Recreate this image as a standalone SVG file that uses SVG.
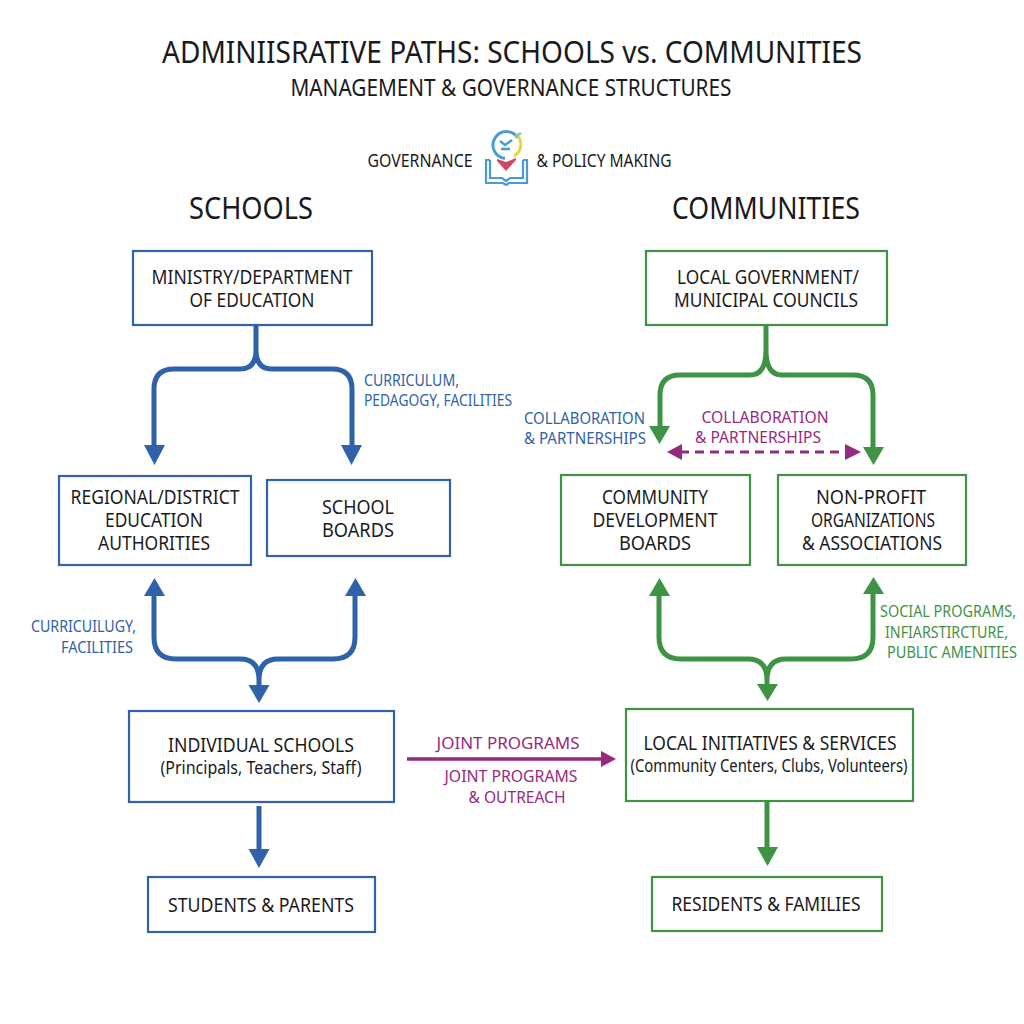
<svg xmlns="http://www.w3.org/2000/svg" width="1024" height="1024" viewBox="0 0 1024 1024">
<style>
text{font-family:"Noto Sans","Open Sans","Liberation Sans",sans-serif;text-anchor:middle;fill:#1a1a1c;font-size:20px}
.b{fill:#2f62a8;font-size:17px}
.g{fill:#3f9345;font-size:17px}
.p{fill:#962a80;font-size:17px}
.s{text-anchor:start}
.e{text-anchor:end}
.h{font-size:30px}
.bn{fill:#fff;stroke:#2f62a8;stroke-width:2.2}
.gn{fill:#fff;stroke:#3f9345;stroke-width:2.2}
.lb{fill:none;stroke:#2f62a8;stroke-width:5}
.lg{fill:none;stroke:#3f9345;stroke-width:5}
.ab{fill:#2f62a8}.ag{fill:#3f9345}.ap{fill:#962a80}
</style>
<rect width="1024" height="1024" fill="#fff"/>
<g id="titles">
<text x="512" y="63" textLength="700" lengthAdjust="spacingAndGlyphs" style="font-size:30px">ADMINIISRATIVE PATHS: SCHOOLS vs. COMMUNITIES</text>
<text x="511" y="96" textLength="441" lengthAdjust="spacingAndGlyphs" style="font-size:23px">MANAGEMENT &amp; GOVERNANCE STRUCTURES</text>
<text x="420" y="167" textLength="105" lengthAdjust="spacingAndGlyphs" style="font-size:18px">GOVERNANCE</text>
<text x="604" y="167" textLength="135" lengthAdjust="spacingAndGlyphs" style="font-size:18px">&amp; POLICY MAKING</text>
<text class="h" x="251" y="219" textLength="124" lengthAdjust="spacingAndGlyphs">SCHOOLS</text>
<text class="h" x="766" y="219" textLength="188" lengthAdjust="spacingAndGlyphs">COMMUNITIES</text>
</g>
<g id="icon">
<path d="M518 138A13.500 13.500 0 1 0 505 158.500" fill="none" stroke="#4a9ad4" stroke-width="3"/>
<path d="M516 134A13.500 13.500 0 0 1 514 156" fill="none" stroke="#f0d24a" stroke-width="3"/>
<path d="M515 137L521 133" stroke="#8cc4a8" stroke-width="2.500"/>
<path d="M500 141L505 145L512 140M501 149H510" fill="none" stroke="#4a9ad4" stroke-width="2.500"/>
<path d="M497 159L506 162L516 158L516 160L506 171L497 161Z" fill="#d5475f"/>
<path d="M490 160H486V183H503L506 185L509 183H527V160H523M490 160V178H502L506 181L510 178H523V160" fill="none" stroke="#4a9ad4" stroke-width="2.200"/>
</g>
<g id="connectors">
<path class="lb" d="M256 326V350Q256 369 240 369H174Q154 369 154 389V448M256 350Q256 369 272 369H332Q352 369 352 389V448"/>
<path class="ab" d="M144 445H165L154.500 465ZM341 445H362L351.500 465Z"/>
<path class="lb" d="M154 596V637Q154 659 176 659H240Q259 659 259 680V688M355 596V637Q355 659 333 659H278Q259 659 259 680"/>
<path class="ab" d="M144 596L154.500 578L165 596ZM345 596L355.500 578L366 596ZM248.500 685H269.500L259 703Z"/>
<path class="lb" d="M259 806V852"/>
<path class="ab" d="M248.500 849H269.500L259 868Z"/>
<path class="lg" d="M766 326V350Q766 375 750 375H680Q660 375 660 395V428M766 350Q766 375 782 375H853Q873 375 873 395V450"/>
<path class="ag" d="M649 426H670L659.500 444ZM863 447H884L873.500 465Z"/>
<path d="M680 452H846" fill="none" stroke="#962a80" stroke-width="3" stroke-dasharray="9 6"/>
<path class="ap" d="M667 452L682 444V460ZM861 452L845 444V460Z"/>
<path class="lg" d="M659 596V637Q659 659 681 659H748Q767 659 767 680V688M873 594V637Q873 659 851 659H786Q767 659 767 680"/>
<path class="ag" d="M649 596L659.500 578L670 596ZM863 594L873.500 577L884 594ZM757 684H778L767.500 701Z"/>
<path class="lg" d="M767 802V850"/>
<path class="ag" d="M757 847H778L767.500 866Z"/>
<path d="M407 759H605" fill="none" stroke="#962a80" stroke-width="3.500"/>
<path class="ap" d="M601 751L616 759L601 767Z"/>
</g>
<g id="edge-labels">
<text class="b s" x="364" y="386" textLength="95" lengthAdjust="spacingAndGlyphs">CURRICULUM,</text>
<text class="b s" x="364" y="406" textLength="148" lengthAdjust="spacingAndGlyphs">PEDAGOGY, FACILITIES</text>
<text class="b s" x="524" y="424" textLength="121" lengthAdjust="spacingAndGlyphs">COLLABORATION</text>
<text class="b s" x="524" y="444" textLength="122" lengthAdjust="spacingAndGlyphs">&amp; PARTNERSHIPS</text>
<text class="p" x="765" y="423" textLength="127" lengthAdjust="spacingAndGlyphs">COLLABORATION</text>
<text class="p" x="758" y="443" textLength="126" lengthAdjust="spacingAndGlyphs">&amp; PARTNERSHIPS</text>
<text class="b e" x="136" y="632" textLength="105" lengthAdjust="spacingAndGlyphs">CURRICUILUGY,</text>
<text class="b e" x="133" y="653" textLength="72" lengthAdjust="spacingAndGlyphs">FACILITIES</text>
<text class="g e" x="1016" y="617" textLength="136" lengthAdjust="spacingAndGlyphs">SOCIAL PROGRAMS,</text>
<text class="g e" x="1008" y="638" textLength="123" lengthAdjust="spacingAndGlyphs">INFIARSTIRCTURE,</text>
<text class="g e" x="1017" y="658" textLength="130" lengthAdjust="spacingAndGlyphs">PUBLIC AMENITIES</text>
<text class="p" x="508" y="749" textLength="143" lengthAdjust="spacingAndGlyphs">JOINT PROGRAMS</text>
<text class="p" x="511" y="782" textLength="133" lengthAdjust="spacingAndGlyphs">JOINT PROGRAMS</text>
<text class="p" x="517" y="803" textLength="97" lengthAdjust="spacingAndGlyphs">&amp; OUTREACH</text>
</g>
<g id="node-ministry"><rect class="bn" x="133" y="251" width="239" height="74"/>
<text x="252" y="284" textLength="201" lengthAdjust="spacingAndGlyphs">MINISTRY/DEPARTMENT</text>
<text x="252" y="307" textLength="125" lengthAdjust="spacingAndGlyphs">OF EDUCATION</text></g>
<g id="node-regional"><rect class="bn" x="59" y="476" width="192" height="89"/>
<text x="155" y="504" textLength="169" lengthAdjust="spacingAndGlyphs">REGIONAL/DISTRICT</text>
<text x="154" y="527" textLength="98" lengthAdjust="spacingAndGlyphs">EDUCATION</text>
<text x="154" y="550" textLength="112" lengthAdjust="spacingAndGlyphs">AUTHORITIES</text></g>
<g id="node-boards"><rect class="bn" x="267" y="480" width="183" height="76"/>
<text x="358" y="514" textLength="72" lengthAdjust="spacingAndGlyphs">SCHOOL</text>
<text x="358" y="537" textLength="72" lengthAdjust="spacingAndGlyphs">BOARDS</text></g>
<g id="node-schools"><rect class="bn" x="129" y="711" width="265" height="91"/>
<text x="261" y="752" textLength="186" lengthAdjust="spacingAndGlyphs">INDIVIDUAL SCHOOLS</text>
<text x="261" y="774" textLength="201" lengthAdjust="spacingAndGlyphs" style="font-size:17.500px">(Principals, Teachers, Staff)</text></g>
<g id="node-students"><rect class="bn" x="148" y="877" width="227" height="55"/>
<text x="261" y="912" textLength="186" lengthAdjust="spacingAndGlyphs">STUDENTS &amp; PARENTS</text></g>
<g id="node-local"><rect class="gn" x="646" y="251" width="241" height="74"/>
<text x="768" y="284" textLength="182" lengthAdjust="spacingAndGlyphs">LOCAL GOVERNMENT/</text>
<text x="766" y="307" textLength="184" lengthAdjust="spacingAndGlyphs">MUNICIPAL COUNCILS</text></g>
<g id="node-cdb"><rect class="gn" x="561" y="475" width="189" height="90"/>
<text x="655" y="504" textLength="106" lengthAdjust="spacingAndGlyphs">COMMUNITY</text>
<text x="655" y="527" textLength="125" lengthAdjust="spacingAndGlyphs">DEVELOPMENT</text>
<text x="655" y="550" textLength="72" lengthAdjust="spacingAndGlyphs">BOARDS</text></g>
<g id="node-nonprofit"><rect class="gn" x="778" y="475" width="188" height="90"/>
<text x="871" y="504" textLength="110" lengthAdjust="spacingAndGlyphs">NON-PROFIT</text>
<text x="873" y="527" textLength="124" lengthAdjust="spacingAndGlyphs">ORGANIZATIONS</text>
<text x="872" y="550" textLength="140" lengthAdjust="spacingAndGlyphs">&amp; ASSOCIATIONS</text></g>
<g id="node-initiatives"><rect class="gn" x="626" y="709" width="287" height="92"/>
<text x="770" y="750" textLength="253" lengthAdjust="spacingAndGlyphs">LOCAL INITIATIVES &amp; SERVICES</text>
<text x="769" y="772" textLength="277" lengthAdjust="spacingAndGlyphs" style="font-size:17.500px">(Community Centers, Clubs, Volunteers)</text></g>
<g id="node-residents"><rect class="gn" x="652" y="877" width="230" height="54"/>
<text x="766" y="911" textLength="189" lengthAdjust="spacingAndGlyphs">RESIDENTS &amp; FAMILIES</text></g>
</svg>
